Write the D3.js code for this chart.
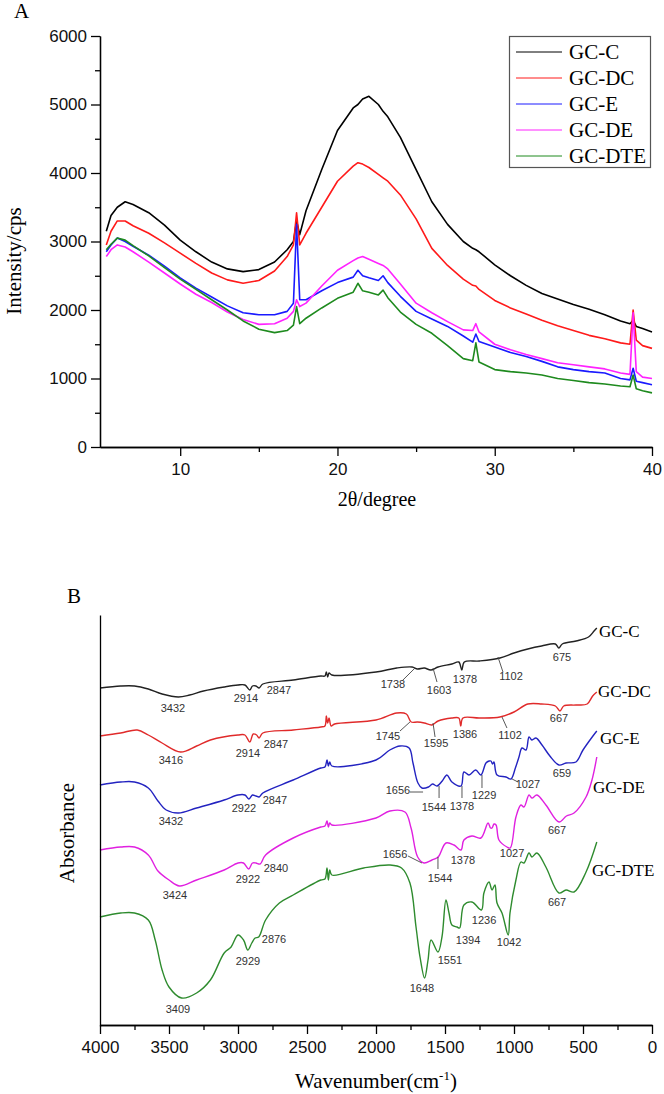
<!DOCTYPE html>
<html>
<head>
<meta charset="utf-8">
<script src="https://cdn.jsdelivr.net/npm/d3@7/dist/d3.min.js"></script>
<style>
  body { margin: 0; background: #fff; }
  svg { display: block; }
  .serif { font-family: "Liberation Serif", "Times New Roman", serif; }
  .sans { font-family: "Liberation Sans", Arial, sans-serif; }
</style>
</head>
<body>
<script>
// ---------------- Panel A: XRD ----------------
const xrdNames = ["GC-C", "GC-DC", "GC-E", "GC-DE", "GC-DTE"];
const xrdColors = ["#000000", "#ff1a1a", "#1a1aff", "#ff22ff", "#1e8a1e"];
const twoTheta = [5.3, 5.6, 6, 6.5, 7, 8, 9, 10, 11, 12, 13, 14, 15, 16, 16.8, 17.2, 17.4, 17.6, 18, 19, 20, 21, 21.3, 21.6, 22, 22.6, 22.9, 23.2, 24, 25, 26, 27, 28, 28.6, 28.8, 29.0, 30, 31, 32, 33, 34, 35, 36, 37, 38, 38.6, 38.8, 39.0, 39.4, 40];
const xrdGC_C = [3150, 3380, 3500, 3580, 3540, 3420, 3240, 3020, 2850, 2700, 2600, 2560, 2590, 2700, 2880, 3000, 3300, 3100, 3450, 4050, 4620, 4950, 5000, 5080, 5120, 5000, 4900, 4820, 4520, 4050, 3580, 3250, 3000, 2900, 2880, 2850, 2660, 2500, 2360, 2240, 2160, 2080, 2010, 1930, 1840, 1800, 1850, 1760, 1730, 1680];
const xrdGC_DC = [2950, 3150, 3300, 3300, 3230, 3120, 2980, 2830, 2680, 2540, 2440, 2390, 2430, 2570, 2780, 2950, 3420, 2950, 3120, 3500, 3880, 4100, 4150, 4130, 4080, 3980, 3930, 3880, 3680, 3330, 2900, 2650, 2450, 2360, 2350, 2300, 2140, 2030, 1940, 1850, 1770, 1700, 1630, 1580, 1520, 1500, 2000, 1560, 1480, 1440];
const xrdGC_E = [2850, 2950, 3050, 3000, 2930, 2800, 2640, 2470, 2320, 2190, 2060, 1960, 1930, 1930, 1980, 2100, 3250, 2150, 2150, 2280, 2400, 2480, 2580, 2500, 2470, 2430, 2500, 2400, 2200, 1980, 1870, 1760, 1620, 1530, 1650, 1540, 1460, 1380, 1320, 1250, 1170, 1130, 1100, 1080, 1000, 980, 1150, 960, 940, 910];
const xrdGC_DE = [2780, 2880, 2950, 2920, 2850, 2700, 2540, 2380, 2230, 2110, 1970, 1860, 1790, 1800, 1880, 1980, 2150, 2050, 2100, 2350, 2580, 2720, 2760, 2780, 2740, 2680, 2650, 2600, 2380, 2100, 1960, 1830, 1710, 1700, 1800, 1680, 1500, 1420, 1350, 1290, 1230, 1200, 1170, 1140, 1080, 1060, 1960, 1100, 1020, 1000];
const xrdGC_DTE = [2880, 2960, 3050, 3020, 2940, 2790, 2620, 2450, 2300, 2150, 2000, 1840, 1720, 1670, 1700, 1780, 2050, 1800, 1880, 2030, 2170, 2260, 2390, 2280, 2260, 2220, 2290, 2180, 1970, 1790, 1660, 1480, 1290, 1260, 1520, 1240, 1130, 1100, 1080, 1050, 1000, 970, 940, 920, 890, 880, 1050, 850, 820, 790];
const xrdSeries = [xrdGC_C, xrdGC_DC, xrdGC_E, xrdGC_DE, xrdGC_DTE];
const xrdMajorTicks = [10, 20, 30, 40];
const xrdMinorTicks = [15, 25, 35];
const intensityTicks = [0, 1000, 2000, 3000, 4000, 5000, 6000];
const intensityMinor = [500, 1500, 2500, 3500, 4500, 5500];

// ---------------- Panel B: FTIR ----------------
const ftirNames = ["GC-C", "GC-DC", "GC-E", "GC-DE", "GC-DTE"];
const ftirColors = ["#222222", "#e02a2a", "#2323c0", "#e020e0", "#2e8b2e"];
const ftirGC_C = [[4000,338],[3850,340],[3750,340],[3650,337],[3550,332],[3432,329],[3350,331],[3250,335],[3100,339],[3000,341],[2950,341],[2914,336],[2895,340],[2870,340],[2847,338],[2820,342],[2600,346],[2400,350],[2370,350],[2360,354],[2350,349],[2340,353],[2320,351],[2000,354],[1850,358],[1738,359],[1700,357],[1650,358],[1603,356],[1550,359],[1450,362],[1400,364],[1378,356],[1360,364],[1250,365],[1102,368],[1000,373],[900,377],[800,380],[700,382],[675,378],[650,382],[550,385],[460,389],[420,395],[400,398]];
const ftirGC_DC = [[4000,290],[3850,293],[3730,296],[3650,291],[3550,283],[3416,274],[3300,280],[3200,286],[3000,291],[2950,291],[2914,284],[2890,292],[2865,291],[2847,288],[2820,293],[2600,296],[2400,299],[2370,300],[2360,310],[2350,303],[2340,308],[2325,300],[2300,302],[2000,306],[1850,313],[1780,312],[1745,304],[1700,304],[1650,303],[1595,301],[1550,305],[1450,308],[1400,308],[1386,300],[1370,308],[1250,308],[1102,309],[1000,314],[900,322],[800,322],[700,320],[667,315],[640,320],[550,321],[470,322],[430,330],[400,334]];
const ftirGC_E = [[4000,241],[3850,244],[3750,244],[3650,238],[3580,225],[3520,216],[3432,213],[3300,218],[3100,226],[3000,231],[2950,231],[2922,227],[2895,231],[2870,230],[2847,229],[2820,233],[2600,246],[2400,258],[2370,259],[2355,266],[2345,260],[2335,264],[2320,260],[2000,266],[1900,276],[1826,280],[1760,278],[1732,263],[1696,243],[1667,238],[1620,239],[1590,242],[1558,240],[1520,245],[1486,251],[1450,244],[1384,240],[1363,254],[1326,251],[1278,256],[1240,251],[1203,263],[1180,265],[1167,265],[1155,262],[1145,264],[1123,251],[1058,249],[1022,247],[990,258],[964,269],[942,278],[913,276],[891,289],[870,286],[841,288],[797,281],[740,270],[674,261],[623,263],[551,264],[500,276],[428,290],[400,295]];
const ftirGC_DE = [[4000,176],[3850,179],[3750,179],[3650,171],[3580,155],[3500,146],[3424,140],[3300,146],[3100,156],[3000,163],[2960,163],[2922,157],[2895,163],[2870,163],[2840,162],[2800,171],[2600,188],[2400,199],[2370,200],[2355,205],[2345,199],[2335,203],[2320,201],[2000,208],[1899,215],[1790,214],[1746,198],[1698,169],[1652,163],[1594,166],[1560,168],[1544,170],[1493,183],[1435,181],[1384,176],[1363,186],[1305,190],[1240,188],[1188,203],[1170,198],[1159,198],[1145,202],[1130,201],[1109,186],[1051,179],[1027,178],[986,209],[950,221],[928,219],[891,231],[870,228],[834,231],[769,221],[674,204],[620,210],[565,213],[478,229],[435,246],[400,269]];
const ftirGC_DTE = [[4000,109],[3850,113],[3750,113],[3650,106],[3600,86],[3550,56],[3500,39],[3409,28],[3300,33],[3200,46],[3100,73],[3050,79],[3000,91],[2960,86],[2929,76],[2900,83],[2876,88],[2850,89],[2800,106],[2700,123],[2600,131],[2400,146],[2370,147],[2355,158],[2345,146],[2335,156],[2320,151],[2089,158],[1899,161],[1815,158],[1754,143],[1710,99],[1681,69],[1648,48],[1623,66],[1601,86],[1551,74],[1522,89],[1493,126],[1471,113],[1450,101],[1413,99],[1394,98],[1363,121],[1305,124],[1236,116],[1218,133],[1181,144],[1159,136],[1138,141],[1123,123],[1087,113],[1042,91],[1029,113],[986,146],[950,164],[928,163],[891,173],[870,169],[834,173],[769,159],[674,133],[623,136],[565,134],[478,154],[400,184]];
const ftirSeries = [ftirGC_C, ftirGC_DC, ftirGC_E, ftirGC_DE, ftirGC_DTE];
const wnMajorTicks = [4000, 3500, 3000, 2500, 2000, 1500, 1000, 500, 0];
const wnMinorTicks = [3750, 3250, 2750, 2250, 1750, 1250, 750, 250];
// series name label anchors [wavenumber, absorbance units]
const ftirNameAnchors = [[384,389],[391,329],[377,282],[428,233],[435,150]];
// peak annotations: [text, label-centre wavenumber, label-baseline absorbance]
const peakLabels = [
  ["3432",3471,314],["2914",2942,324],["2847",2703,332],["1738",1877,338],["1603",1543,332],["1378",1355,343],["1102",1022,346],["675",652,365],
  ["3416",3486,262],["2914",2928,269],["2847",2725,278],["1745",1913,286],["1595",1565,279],["1386",1355,288],["1102",1029,287],["667",674,304],
  ["3432",3486,201],["2922",2957,214],["2847",2732,222],["1656",1841,232],["1544",1580,215],["1378",1377,216],["1229",1217,227],["1027",899,238],["659",652,249],
  ["3424",3457,127],["2922",2928,143],["2840",2725,154],["1656",1862,168],["1544",1536,144],["1378",1370,162],["1027",1014,169],["667",688,192],
  ["3409",3435,13],["2929",2928,61],["2876",2739,83],["1648",1667,34],["1551",1464,62],["1394",1333,82],["1236",1217,102],["1042",1036,80],["667",688,120]
];
// leader lines: [wn1, a1, wn2, a2]
const peakLeaders = [
  [1812,345,1717,358],[1558,344,1587,358],[1080,354,1116,369],
  [1826,295,1754,304],[1572,289,1587,303],[1051,298,1087,309],
  [1754,234,1659,234],[1543,228,1543,240],[1377,228,1377,240],[1232,238,1232,251],[971,244,1014,247],
  [1768,170,1667,163],[1551,157,1551,169]
];

const W = 664, H = 1094;
const svg = d3.select("body").append("svg").attr("width", W).attr("height", H);
const fmt = d3.format("d");

// ===== Panel A =====
const xA = d3.scaleLinear().domain([4.9, 40]).range([100, 652]);
const yA = d3.scaleLinear().domain([0, 6000]).range([447, 36]);

const gA = svg.append("g");
const lineA = d3.line().x((d, i) => xA(twoTheta[i])).y(d => yA(d));
xrdSeries.forEach((s, k) => {
  gA.append("path").attr("d", lineA(s)).attr("fill", "none")
    .attr("stroke", xrdColors[k]).attr("stroke-width", 1.6).attr("stroke-linejoin", "round");
});

function styleAxis(g) {
  g.selectAll("path").attr("stroke", "#000").attr("stroke-width", 1.3);
  g.selectAll("line").attr("stroke", "#000").attr("stroke-width", 1.3);
  g.selectAll("text").attr("class", "sans").attr("font-size", 17).attr("fill", "#111");
}
gA.append("g").attr("transform", "translate(100,0)")
  .call(d3.axisLeft(yA).tickValues(intensityMinor).tickSize(5).tickFormat("").tickSizeOuter(0)).call(styleAxis);
gA.append("g").attr("transform", "translate(100,0)")
  .call(d3.axisLeft(yA).tickValues(intensityTicks).tickSize(9).tickPadding(4).tickFormat(fmt).tickSizeOuter(0)).call(styleAxis);
gA.append("g").attr("transform", "translate(0,447)")
  .call(d3.axisBottom(xA).tickValues(xrdMinorTicks).tickSize(5).tickFormat("").tickSizeOuter(0)).call(styleAxis);
gA.append("g").attr("transform", "translate(0,447)")
  .call(d3.axisBottom(xA).tickValues(xrdMajorTicks).tickSize(9).tickPadding(7).tickFormat(fmt).tickSizeOuter(0)).call(styleAxis);

gA.append("text").attr("class", "serif").attr("x", 14).attr("y", 18).attr("font-size", 21).text("A");
gA.append("text").attr("class", "serif").attr("font-size", 21)
  .attr("transform", "translate(21,261) rotate(-90)").attr("text-anchor", "middle").text("Intensity/cps");
gA.append("text").attr("class", "serif").attr("font-size", 20)
  .attr("x", 377).attr("y", 506).attr("text-anchor", "middle").text("2θ/degree");

// legend
const leg = gA.append("g");
leg.append("rect").attr("x", 509.5).attr("y", 36.5).attr("width", 141).attr("height", 131)
  .attr("fill", "#fff").attr("stroke", "#555").attr("stroke-width", 1.2);
xrdNames.forEach((n, k) => {
  const cy = 52 + k * 26;
  leg.append("line").attr("x1", 516).attr("x2", 562).attr("y1", cy).attr("y2", cy)
    .attr("stroke", xrdColors[k]).attr("stroke-width", 1);
  leg.append("text").attr("class", "serif").attr("font-size", 21).attr("x", 569).attr("y", cy + 7).text(n);
});

// ===== Panel B =====
const xB = d3.scaleLinear().domain([4000, 0]).range([100, 652]);
const yB = d3.scaleLinear().domain([0, 411]).range([1026, 615]);
const gB = svg.append("g");
const lineB = d3.line().x(d => xB(d[0])).y(d => yB(d[1])).curve(d3.curveCatmullRom.alpha(0.5));
ftirSeries.forEach((s, k) => {
  gB.append("path").attr("d", lineB(s)).attr("fill", "none")
    .attr("stroke", ftirColors[k]).attr("stroke-width", 1.4).attr("stroke-linejoin", "round");
});

gB.append("g").attr("transform", "translate(100,0)")
  .call(d3.axisLeft(yB).tickValues([]).tickSizeOuter(0)).call(styleAxis);
gB.append("g").attr("transform", "translate(0,1025)")
  .call(d3.axisBottom(xB).tickValues(wnMinorTicks).tickSize(5).tickFormat("").tickSizeOuter(0)).call(styleAxis);
gB.append("g").attr("transform", "translate(0,1025)")
  .call(d3.axisBottom(xB).tickValues(wnMajorTicks).tickSize(9).tickPadding(7).tickFormat(fmt).tickSizeOuter(0)).call(styleAxis);

// series names
ftirNames.forEach((n, k) => {
  gB.append("text").attr("class", "serif").attr("font-size", 17)
    .attr("x", xB(ftirNameAnchors[k][0])).attr("y", yB(ftirNameAnchors[k][1])).text(n);
});
// peak labels
gB.selectAll("text.pk").data(peakLabels).enter().append("text")
  .attr("class", "sans pk").attr("font-size", 11).attr("fill", "#333").attr("text-anchor", "middle")
  .attr("x", d => xB(d[1])).attr("y", d => yB(d[2])).text(d => d[0]);
gB.selectAll("line.ld").data(peakLeaders).enter().append("line").attr("class", "ld")
  .attr("x1", d => xB(d[0])).attr("y1", d => yB(d[1])).attr("x2", d => xB(d[2])).attr("y2", d => yB(d[3]))
  .attr("stroke", "#444").attr("stroke-width", 0.9);

gB.append("text").attr("class", "serif").attr("x", 67).attr("y", 603).attr("font-size", 21).text("B");
gB.append("text").attr("class", "serif").attr("font-size", 21)
  .attr("transform", "translate(74,833) rotate(-90)").attr("text-anchor", "middle").text("Absorbance");
const xl = gB.append("text").attr("class", "serif").attr("font-size", 21)
  .attr("x", 376).attr("y", 1088).attr("text-anchor", "middle");
xl.append("tspan").text("Wavenumber(cm");
xl.append("tspan").attr("font-size", 13).attr("dy", -8).text("-1");
xl.append("tspan").attr("dy", 8).text(")");
</script>
</body>
</html>
